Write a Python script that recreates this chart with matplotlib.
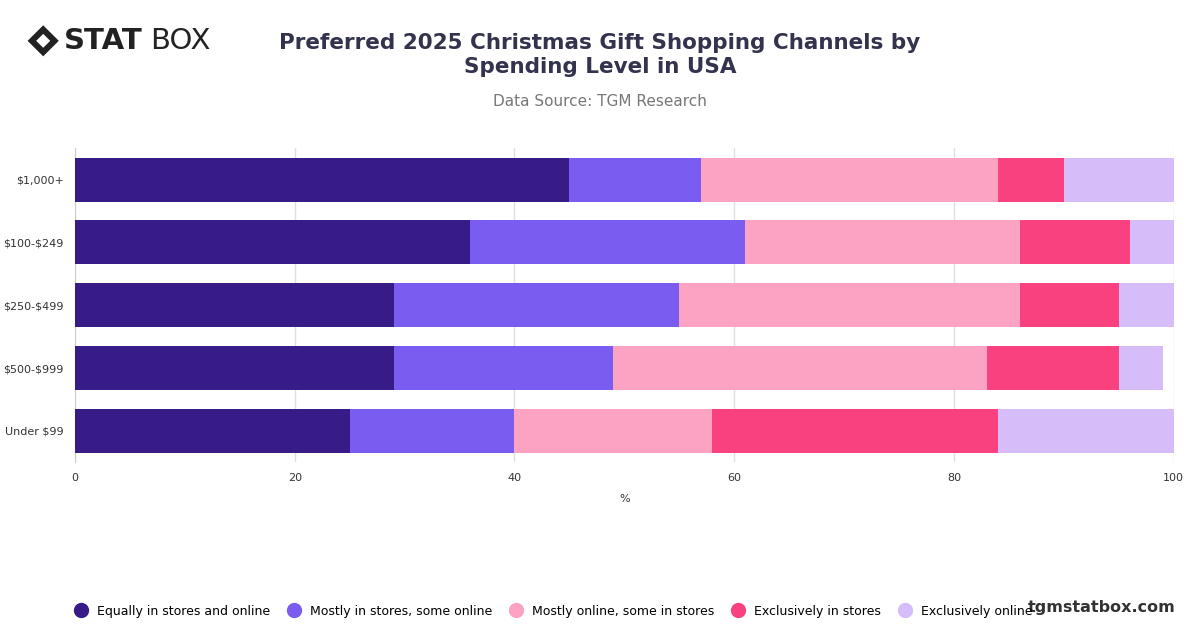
import matplotlib.pyplot as plt
from matplotlib.patches import Polygon

plt.rcParams['text.parse_math'] = False

# data
categories = ['$1,000+', '$100-$249', '$250-$499', '$500-$999', 'Under $99']
series_names = ['Equally in stores and online', 'Mostly in stores, some online',
                'Mostly online, some in stores', 'Exclusively in stores', 'Exclusively online']
equally = [45, 36, 29, 29, 25]
mostly_stores = [12, 25, 26, 20, 15]
mostly_online = [27, 25, 31, 34, 18]
excl_stores = [6, 10, 9, 12, 26]
excl_online = [10, 4, 5, 4, 16]
colors = ['#371b86', '#7b5cf0', '#fca3c4', '#f9417f', '#d6bcf9']

values = [equally, mostly_stores, mostly_online, excl_stores, excl_online]

fig = plt.figure(figsize=(12, 6.28), dpi=100)
ax = fig.add_axes([0.0625, 0.264, 0.9155, 0.5])

y = list(range(len(categories)))
left = [0] * len(categories)
for vals, name, c in zip(values, series_names, colors):
    ax.barh(y, vals, left=left, color=c, height=0.7, label=name, zorder=3)
    left = [l + v for l, v in zip(left, vals)]

ax.set_ylim(len(categories) - 0.5, -0.5)
ax.set_xlim(0, 100)
ax.set_yticks(y)
ax.set_yticklabels(categories, fontsize=8, color='#333333')
ax.set_xticks([0, 20, 40, 60, 80, 100])
ax.tick_params(axis='x', labelsize=8, colors='#333333', length=0, pad=8)
ax.tick_params(axis='y', length=0, pad=8)
ax.set_xlabel('%', fontsize=8, color='#333333', labelpad=8)
ax.grid(axis='x', color='#e0e0e0', linewidth=1, zorder=0)
for s in ['top', 'right', 'bottom']:
    ax.spines[s].set_visible(False)
ax.spines['left'].set_color('#cccccc')

# title
fig.text(0.5, 0.913, 'Preferred 2025 Christmas Gift Shopping Channels by\nSpending Level in USA',
         ha='center', va='center', fontsize=15.5, fontweight='bold', color='#33334d', linespacing=1.25)
fig.text(0.5, 0.838, 'Data Source: TGM Research', ha='center', va='center',
         fontsize=11, color='#777777')

# logo
fig.text(0.053, 0.935, 'STAT', ha='left', va='center', fontsize=21, fontweight='heavy', color='#222222')
fig.text(0.125, 0.935, 'BOX', ha='left', va='center', fontsize=21, color='#222222')
lx, ly, r = 0.036, 0.935, 0.013
fig.patches.append(Polygon([[lx - r, ly], [lx, ly + r * 1.9], [lx + r, ly], [lx, ly - r * 1.9]],
                           closed=True, transform=fig.transFigure, facecolor='#222222'))
fig.patches.append(Polygon([[lx - r * 0.45, ly], [lx, ly + r * 0.85], [lx + r * 0.45, ly], [lx, ly - r * 0.85]],
                           closed=True, transform=fig.transFigure, facecolor='white'))

# legend
fig.legend(loc='center right', bbox_to_anchor=(0.87, 0.027), ncol=5, frameon=False, fontsize=9,
           handles=[plt.Line2D([], [], marker='o', linestyle='', markersize=10, color=c) for c in colors],
           labels=series_names, columnspacing=0.9, handletextpad=0.3)
fig.text(0.98, 0.033, 'tgmstatbox.com', ha='right', va='center', fontsize=11.5,
         fontweight='bold', color='#333333')

fig.savefig('out.png', dpi=100)
